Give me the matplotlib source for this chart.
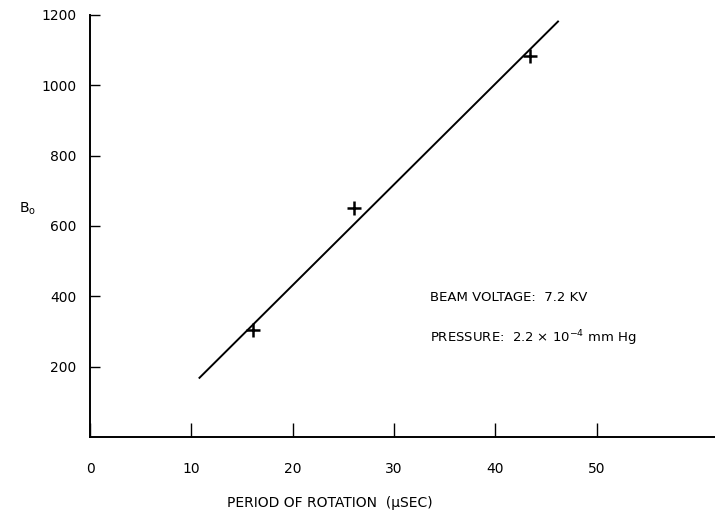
import matplotlib
matplotlib.use("Agg")
import matplotlib.pyplot as plt

# ── Data ──────────────────────────────────────────────────────────────────────
period = [16.1, 26.1, 43.4]          # period of rotation (µsec)
b0 = [305, 651, 1084]                # measured B_o
fit_x = [10.8, 46.2]                 # fitted straight line, end points
fit_y = [168, 1181]

xticks = [0, 10, 20, 30, 40, 50]
yticks = [200, 400, 600, 800, 1000, 1200]

plt.rcParams["font.family"] = ["DejaVu Sans"]

fig = plt.figure(figsize=(7.15, 5.11), dpi=100)
ax = fig.add_axes([0.126, 0.145, 0.874, 0.826])

ax.plot(fit_x, fit_y, color="black", linewidth=1.4)
ax.plot(period, b0, linestyle="none", marker="+", markersize=10,
        markeredgewidth=1.8, color="black")

ax.set_xlim(0, 61.7)
ax.set_ylim(0, 1200)
ax.set_xticks(xticks)
ax.set_yticks(yticks)
ax.tick_params(axis="x", direction="in", length=10, width=1, pad=18, labelsize=10)
ax.tick_params(axis="y", direction="in", length=7, width=1, pad=10, labelsize=10)

ax.spines["top"].set_visible(False)
ax.spines["right"].set_visible(False)
ax.spines["left"].set_linewidth(1.4)
ax.spines["bottom"].set_linewidth(1.4)

ax.set_xlabel("PERIOD OF ROTATION  (µSEC)", fontsize=10)
ax.xaxis.set_label_coords(0.384, -0.14)
ax.set_ylabel(r"B$_\mathregular{o}$", fontsize=10, rotation=0)
ax.yaxis.set_label_coords(-0.1, 0.52)

ax.text(33.6, 395, "BEAM VOLTAGE:  7.2 KV", fontsize=9.5, va="center")
ax.text(33.6, 282, r"PRESSURE:  2.2 × 10$^{\mathregular{-4}}$ mm Hg",
        fontsize=9.5, va="center")

fig.savefig("out.png", dpi=100)
